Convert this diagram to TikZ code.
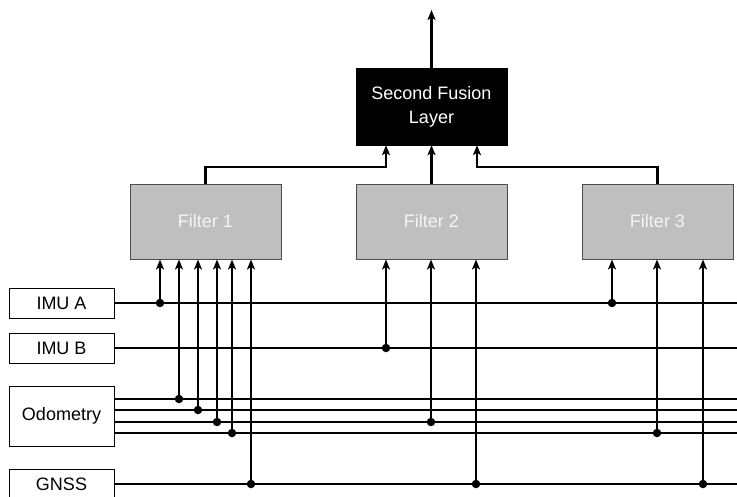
\documentclass[tikz,border=0pt]{standalone}
\usepackage{fontspec}
\setmainfont{Liberation Sans}
\usetikzlibrary{arrows.meta,calc}

\begin{document}
\begin{tikzpicture}[x=1pt, y=-1pt, >={Stealth[length=10pt,width=8pt,inset=2.5pt]},
  font=\fontsize{18}{24}\selectfont,
  sensor/.style={draw, line width=1pt, minimum width=105pt, minimum height=30pt, inner sep=0pt},
  filterbox/.style={draw=black!70, fill=black!25, text=black!4, line width=1pt, minimum width=151pt, minimum height=75pt, inner sep=0pt},
  bus/.style={line width=2.2pt},
  tap/.style={->, line width=2.2pt},
  dot/.style={circle, fill, inner sep=0pt, minimum size=8.5pt}]
  \useasboundingbox (0,0) rectangle (737,496);
  \coordinate (edge) at (737,0);
  % sensors
  \node[sensor] (imuA) at (61.5,303) {IMU A};
  \node[sensor] (imuB) at (61.5,348) {IMU B};
  \node[sensor, minimum height=60pt] (odo) at (61.5,416) {Odometry};
  \node[sensor] (gnss) at (61.5,484) {GNSS};
  % filters and fusion
  \node[filterbox] (f1) at (205.5,221.5) {Filter 1};
  \node[filterbox] (f2) at (431.5,221.5) {Filter 2};
  \node[filterbox] (f3) at (657.5,221.5) {Filter 3};
  \node[draw, fill=black, text=white, align=center, minimum width=151pt, minimum height=77pt, inner sep=0pt] (sfl) at (431.5,106.5) {Second Fusion\\Layer};
  % sensor buses
  \foreach \s in {imuA, imuB, gnss}
    \draw[bus] (\s.east) -- (\s.east -| edge);
  \foreach \y in {399,410,422,433}
    \draw[bus] (odo.east |- 0,\y) -- (edge |- 0,\y);
  % taps into filters
  \foreach \x/\y/\f [count=\i] in {160/303/f1, 179/399/f1, 198/410/f1, 217/422/f1, 232/433/f1, 251/484/f1,
                                   386/348/f2, 431/422/f2, 476/484/f2,
                                   612/303/f3, 657/433/f3, 703/484/f3} {
    \node[dot] (d\i) at (\x,\y) {};
    \draw[tap] (d\i.center) -- (d\i |- \f.south);
  }
  % filters to second fusion layer
  \coordinate (inL) at (386,167);
  \coordinate (inR) at (477,167);
  \coordinate (out) at (431.5,10);
  \draw[tap] (f1.north) |- (inL) -- (inL |- sfl.south);
  \draw[tap] (f2.north) -- (sfl.south);
  \draw[tap] (f3.north) |- (inR) -- (inR |- sfl.south);
  \draw[tap] (sfl.north) -- (out);
\end{tikzpicture}
\end{document}
